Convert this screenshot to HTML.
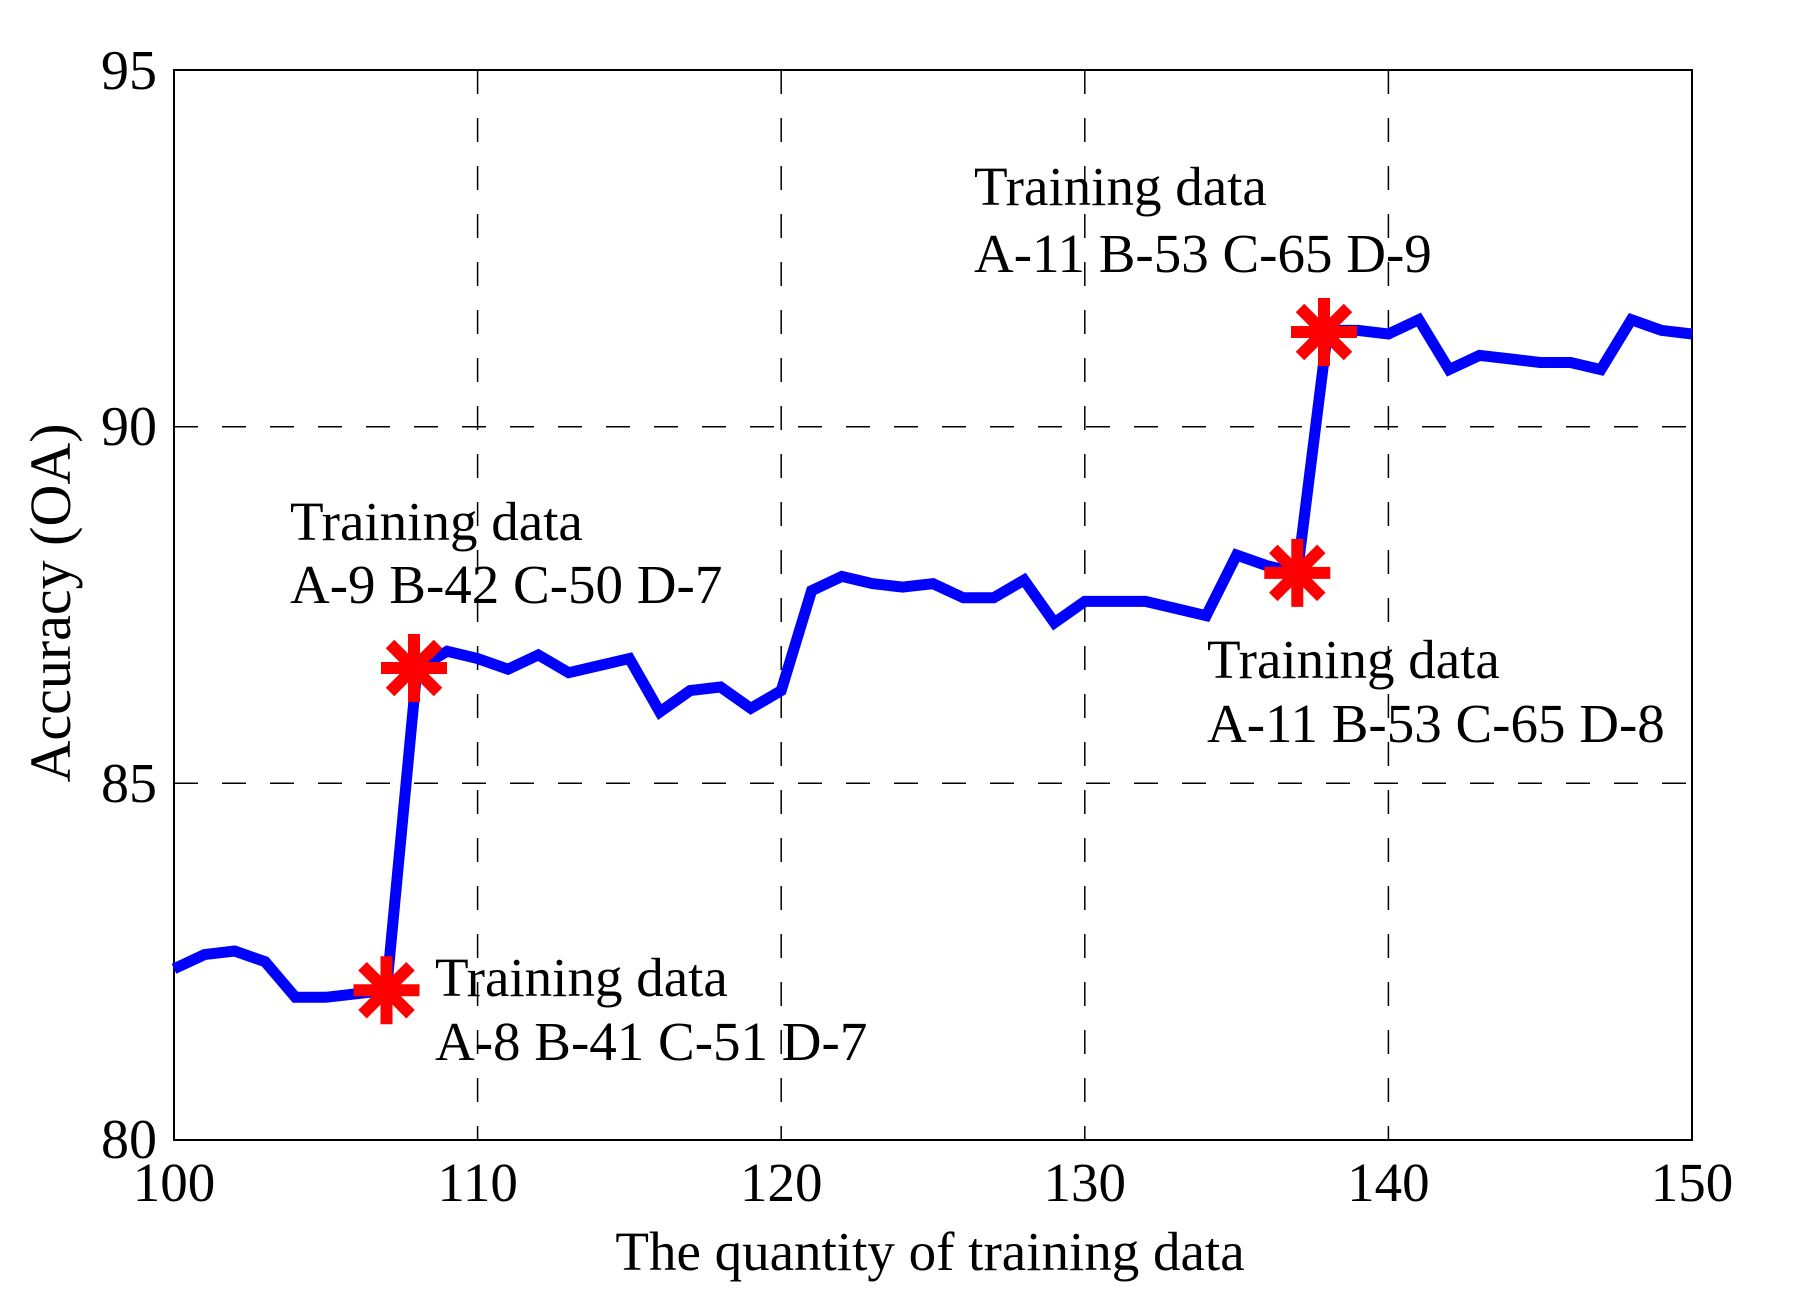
<!DOCTYPE html>
<html><head><style>html,body{margin:0;padding:0;background:#fff}svg{display:block}</style></head>
<body>
<svg width="1820" height="1304" viewBox="0 0 1820 1304" xmlns="http://www.w3.org/2000/svg" font-family="Liberation Serif, serif">
<rect width="1820" height="1304" fill="#fff"/>
<g stroke="#000" stroke-width="1.5" stroke-dasharray="24,24" fill="none">
<line x1="477.6" y1="70" x2="477.6" y2="1140"/>
<line x1="781.2" y1="70" x2="781.2" y2="1140"/>
<line x1="1084.8" y1="70" x2="1084.8" y2="1140"/>
<line x1="1388.4" y1="70" x2="1388.4" y2="1140"/>
<line x1="174" y1="426.7" x2="1692" y2="426.7"/>
<line x1="174" y1="783.3" x2="1692" y2="783.3"/>
</g>
<rect x="174" y="70" width="1518" height="1070" fill="none" stroke="#000" stroke-width="2"/>
<polyline fill="none" stroke="#0000ff" stroke-width="11" stroke-linejoin="miter" points="174.0,968.8 204.4,954.6 234.7,951.0 265.1,961.7 295.4,997.3 325.8,997.3 356.2,993.8 386.5,990.2 416.9,669.2 447.2,651.3 477.6,658.5 508.0,669.2 538.3,654.9 568.7,672.7 599.0,665.6 629.4,658.5 659.8,712.0 690.1,690.6 720.5,687.0 750.8,708.4 781.2,690.6 811.6,590.7 841.9,576.4 872.3,583.6 902.6,587.1 933.0,583.6 963.4,597.8 993.7,597.8 1024.1,580.0 1054.4,622.8 1084.8,601.4 1115.2,601.4 1145.5,601.4 1175.9,608.5 1206.2,615.7 1236.6,555.0 1267.0,565.7 1297.3,572.9 1327.7,330.4 1358.0,330.4 1388.4,334.0 1418.8,319.7 1449.1,369.6 1479.5,355.4 1509.8,358.9 1540.2,362.5 1570.6,362.5 1600.9,369.6 1631.3,319.7 1661.6,330.4 1692.0,334.0"/>
<defs>
<g id="ast" stroke="#ff0000" stroke-width="12">
<line x1="-33" y1="0" x2="33" y2="0"/>
<line x1="0" y1="-34" x2="0" y2="34"/>
<line x1="-24" y1="-24" x2="24" y2="24"/>
<line x1="-24" y1="24" x2="24" y2="-24"/>
</g>
</defs>
<use href="#ast" x="386.5" y="990.2"/>
<use href="#ast" x="414" y="668"/>
<use href="#ast" x="1297.3" y="572.9"/>
<use href="#ast" x="1324" y="332"/>
<g font-size="56" fill="#000" text-anchor="end">
<text x="157" y="89">95</text>
<text x="157" y="445">90</text>
<text x="157" y="802">85</text>
<text x="157" y="1158">80</text>
</g>
<g font-size="55" fill="#000" text-anchor="middle">
<text x="174" y="1201">100</text>
<text x="477.6" y="1201">110</text>
<text x="781.2" y="1201">120</text>
<text x="1084.8" y="1201">130</text>
<text x="1388.4" y="1201">140</text>
<text x="1692" y="1201">150</text>
<text x="930" y="1270">The quantity of training data</text>
<text transform="translate(70,603) rotate(-90)" font-size="58">Accuracy (OA)</text>
</g>
<g font-size="55" fill="#000">
<text x="974" y="205">Training data</text>
<text x="974" y="272">A-11 B-53 C-65 D-9</text>
<text x="290" y="540">Training data</text>
<text x="290" y="603">A-9 B-42 C-50 D-7</text>
<text x="1207" y="678">Training data</text>
<text x="1207" y="742">A-11 B-53 C-65 D-8</text>
<text x="435" y="996">Training data</text>
<text x="435" y="1060">A-8 B-41 C-51 D-7</text>
</g>
</svg>
</body></html>
